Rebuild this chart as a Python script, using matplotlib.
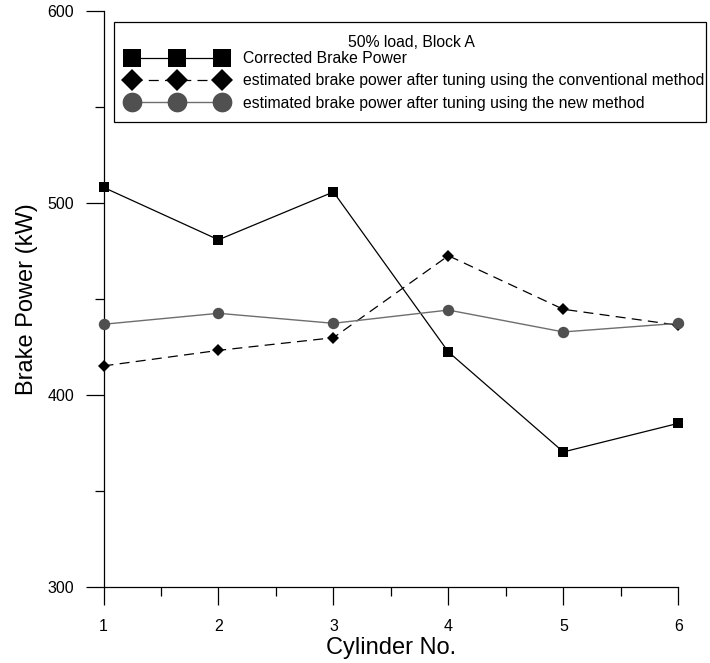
import matplotlib
matplotlib.use("Agg")
import matplotlib.pyplot as plt
from matplotlib.ticker import MultipleLocator
from matplotlib.legend_handler import HandlerLine2D
from matplotlib.patches import Rectangle

plt.rcParams['font.family'] = ['Liberation Sans', 'DejaVu Sans']

cylinders = [1, 2, 3, 4, 5, 6]
corrected_power = [508.3, 481.0, 505.9, 422.6, 370.5, 385.4]
conventional_power = [415.3, 423.4, 430.0, 472.7, 444.8, 436.5]
new_method_power = [437.0, 442.7, 437.5, 444.4, 433.0, 437.5]

legend_title = "50% load, Block A"
series_labels = [
    "Corrected Brake Power",
    "estimated brake power after tuning using the conventional method",
    "estimated brake power after tuning using the new method",
]

W, H = 710, 663
fig = plt.figure(figsize=(W / 100, H / 100), dpi=100)
ax = fig.add_axes([103.5 / W, 1 - 587.3 / H, (678.3 - 103.5) / W, (587.3 - 11.3) / H])

l1, = ax.plot(cylinders, corrected_power, color='black', lw=0.9, marker='s',
              markersize=7.5, markeredgewidth=0, label=series_labels[0], clip_on=False, zorder=3)
l2, = ax.plot(cylinders, conventional_power, color='black', lw=0.9, ls=(0, (8, 5)), marker='D',
              markersize=6.5, markeredgewidth=0, label=series_labels[1], clip_on=False, zorder=3)
l3, = ax.plot(cylinders, new_method_power, color='#6e6e6e', lw=1.0, marker='o',
              markerfacecolor='#505050', markeredgewidth=0, markersize=8.2,
              label=series_labels[2], clip_on=False, zorder=3)

ax.set_xlim(1, 6)
ax.set_ylim(300, 600)
ax.xaxis.set_major_locator(MultipleLocator(1))
ax.xaxis.set_minor_locator(MultipleLocator(0.5))
ax.yaxis.set_major_locator(MultipleLocator(100))
ax.yaxis.set_minor_locator(MultipleLocator(50))

for side in ('top', 'right'):
    ax.spines[side].set_visible(False)
for side in ('left', 'bottom'):
    ax.spines[side].set_linewidth(0.9)

ax.tick_params(which='major', direction='out', length=13, width=0.9, labelsize=11.5, pad=8)
ax.tick_params(which='minor', direction='out', length=6.5, width=0.9)
ax.tick_params(axis='x', which='major', pad=10)

ax.set_xlabel("Cylinder No.", fontsize=17, labelpad=2)
ax.set_ylabel("Brake Power (kW)", fontsize=17, labelpad=7)

# legend contents without its own frame; a plain box is drawn around it
handler = HandlerLine2D(marker_pad=0.83)
leg = ax.legend(handles=[l1, l2, l3], loc='upper left',
                bbox_to_anchor=(114 / W, 1 - 30.3 / H),
                bbox_transform=fig.transFigure, title=legend_title,
                fontsize=11.3, title_fontsize=11.3, numpoints=3, markerscale=1.73,
                handlelength=7.39, handletextpad=0.51, labelspacing=0.45,
                borderpad=0.3, borderaxespad=0, frameon=False,
                handler_map={l1: handler, l2: handler, l3: handler})
leg._legend_box.sep = 1

fig.add_artist(Rectangle((114 / W, 1 - 122.3 / H), (706 - 114) / W, 100 / H,
                         transform=fig.transFigure, fill=False,
                         edgecolor='black', linewidth=0.9))

fig.savefig("out.png", dpi=100)
